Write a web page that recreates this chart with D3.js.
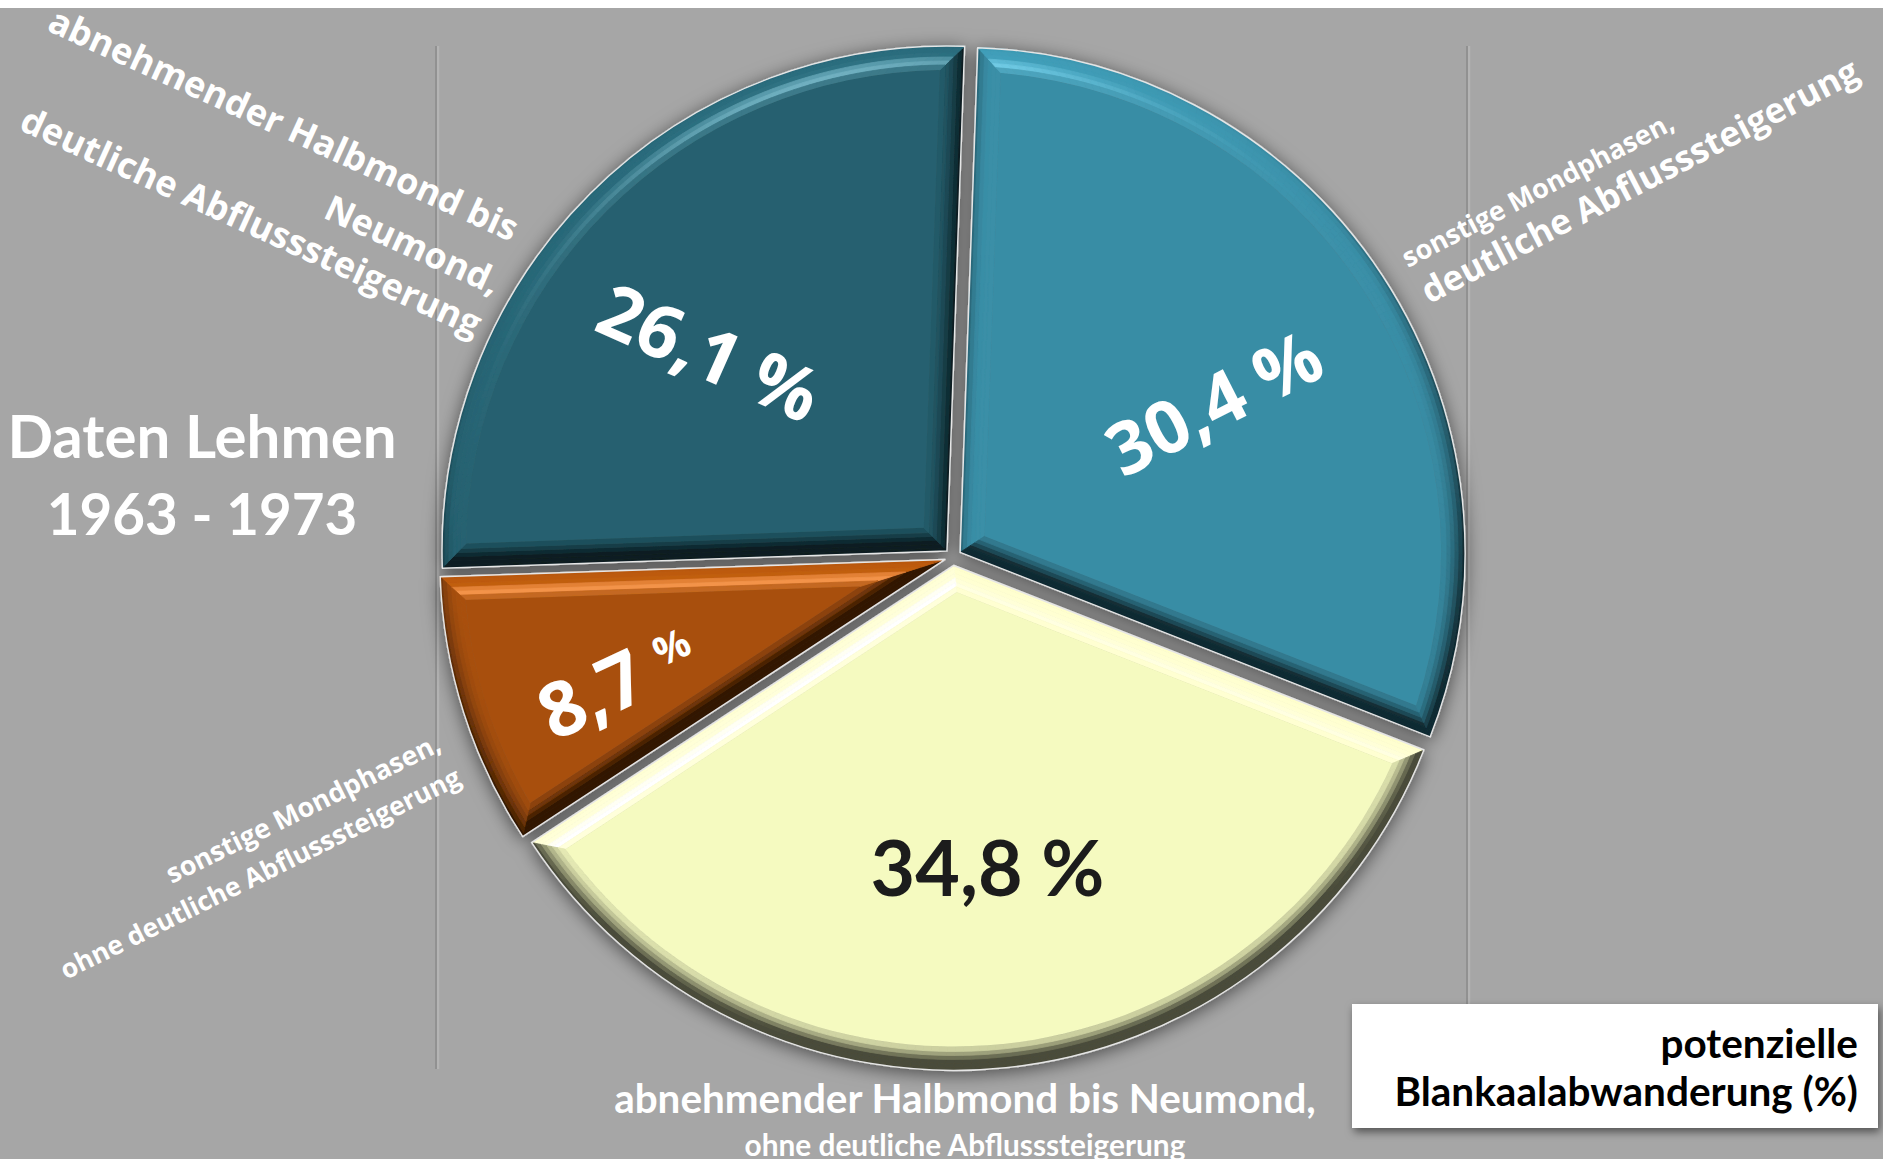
<!DOCTYPE html>
<html>
<head>
<meta charset="utf-8">
<script src="https://cdn.jsdelivr.net/npm/d3@7"></script>
<style>
  html, body { margin: 0; padding: 0; background: #a6a6a6; overflow: hidden; }
  svg { display: block; }
</style>
</head>
<body>
<script>
// data
const categories = [
    "sonstige Mondphasen, deutliche Abflusssteigerung",
    "abnehmender Halbmond bis Neumond, ohne deutliche Abflusssteigerung",
    "sonstige Mondphasen, ohne deutliche Abflusssteigerung",
    "abnehmender Halbmond bis Neumond, deutliche Abflusssteigerung"
];
const values = [30.4, 34.8, 8.7, 26.1];
const categoryLines = [
    ["sonstige Mondphasen,", "deutliche Abflusssteigerung"],
    ["abnehmender Halbmond bis Neumond,", "ohne deutliche Abflusssteigerung"],
    ["sonstige Mondphasen,", "ohne deutliche Abflusssteigerung"],
    ["abnehmender Halbmond bis", "Neumond,", "deutliche Abflusssteigerung"]
];
const titleLines = ["Daten Lehmen", "1963 - 1973"];
const legendTitle = ["potenzielle", "Blankaalabwanderung (%)"];

const sliceColors = ["#398da5", "#f5fac0", "#a8500c", "#25606f"];
const valueColors = ["#ffffff", "#1c1c1c", "#ffffff", "#ffffff"];

const W = 1883, H = 1159;
const cx = 953, cy = 557, R = 505, explode = 8.5, bevel = 24;
const deg = Math.PI / 180;

const svg = d3.select("body").append("svg")
    .attr("width", W)
    .attr("height", H);

const defs = svg.append("defs");
const pieShadow = defs.append("filter").attr("id", "pieShadow")
    .attr("x", "-10%").attr("y", "-10%").attr("width", "120%").attr("height", "120%");
pieShadow.append("feDropShadow")
    .attr("dx", 0).attr("dy", 3).attr("stdDeviation", 9)
    .attr("flood-color", "#000").attr("flood-opacity", 0.55);

const boxShadow = defs.append("filter").attr("id", "boxShadow")
    .attr("x", "-10%").attr("y", "-20%").attr("width", "120%").attr("height", "150%");
boxShadow.append("feDropShadow")
    .attr("dx", 2).attr("dy", 4).attr("stdDeviation", 4)
    .attr("flood-color", "#000").attr("flood-opacity", 0.5);

svg.append("rect").attr("width", W).attr("height", H).attr("fill", "#a6a6a6");
svg.append("rect").attr("width", W).attr("height", 8).attr("fill", "#ffffff");

// plot area side lines
[436, 1467].forEach(x => {
    svg.append("line")
        .attr("x1", x + 2).attr("x2", x + 2).attr("y1", 46).attr("y2", 1069)
        .attr("stroke", "#b4b4b4").attr("stroke-width", 2.5);
    svg.append("line")
        .attr("x1", x).attr("x2", x).attr("y1", 46).attr("y2", 1069)
        .attr("stroke", "#8a8a8a").attr("stroke-width", 1.5);
});

// lighting for the bevel
const norm = v => { const l = Math.hypot(...v); return v.map(c => c / l); };
const Lv = norm([-0.2, -0.75, 0.65]);
const Hv = norm([Lv[0], Lv[1], Lv[2] + 1]);
const specPow = 40;
const specFlat = Math.pow(Hv[2], specPow);

function shade(base, nx, ny, slope) {
    const s = Math.sin(slope), c = Math.cos(slope);
    const N = [nx * s, ny * s, c];
    const diff = Math.max(0, N[0] * Lv[0] + N[1] * Lv[1] + N[2] * Lv[2]);
    let ratio = 0.3 + 0.7 * diff / Lv[2];
    if (ratio > 1) ratio = 1 + (ratio - 1) * 0.35;
    const nh = Math.max(0, N[0] * Hv[0] + N[1] * Hv[1] + N[2] * Hv[2]);
    const spec = Math.max(0, Math.pow(nh, specPow) - specFlat) * 0.3;
    const col = d3.rgb(base);
    const f = v => Math.max(0, Math.min(255, v * ratio + spec * 255));
    return d3.rgb(f(col.r), f(col.g), f(col.b)).formatHex();
}

const pt = (P, r, a) => [P[0] + r * Math.sin(a), P[1] - r * Math.cos(a)];

function inset(P, a0, a1, d) {
    const half = (a1 - a0) / 2, mid = (a0 + a1) / 2;
    const da = Math.asin(Math.min(1, d / (R - d)));
    return { q: pt(P, d / Math.sin(half), mid), r: R - d, p0: a0 + da, p1: a1 - da };
}

const poly = pts => "M" + pts.map(p => p[0].toFixed(2) + "," + p[1].toFixed(2)).join("L") + "Z";

const pie = d3.pie().sort(null).value(d => d)
    .startAngle(2 * deg).endAngle(362 * deg);
const arcs = pie(values);

// bevel profile: insets and slopes (outer steep -> inner flat)
const steps = [0, 3, 7, 11, 15, 19, 24];
const slopes = [72, 58, 45, 33, 22, 11].map(s => s * deg);

const pieG = svg.append("g").attr("filter", "url(#pieShadow)");

arcs.forEach((a, i) => {
    const a0 = a.startAngle, a1 = a.endAngle, mid = (a0 + a1) / 2;
    const P = [cx + explode * Math.sin(mid), cy - explode * Math.cos(mid)];
    const base = sliceColors[i];
    const g = pieG.append("g").attr("class", "slice");

    const add = (d, fill) => g.append("path").attr("d", d)
        .attr("fill", fill).attr("stroke", fill).attr("stroke-width", 0.8);

    for (let k = 0; k < slopes.length; k++) {
        const o = inset(P, a0, a1, steps[k]);
        const n = inset(P, a0, a1, steps[k + 1]);
        // straight edges
        add(poly([o.q, pt(P, o.r, o.p0), pt(P, n.r, n.p0), n.q]),
            shade(base, -Math.cos(a0), -Math.sin(a0), slopes[k]));
        add(poly([o.q, n.q, pt(P, n.r, n.p1), pt(P, o.r, o.p1)]),
            shade(base, Math.cos(a1), Math.sin(a1), slopes[k]));
        // curved edge
        const pieces = Math.ceil((a1 - a0) / deg);
        for (let j = 0; j < pieces; j++) {
            const t0 = j / pieces, t1 = (j + 1) / pieces;
            const oa0 = o.p0 + (o.p1 - o.p0) * t0, oa1 = o.p0 + (o.p1 - o.p0) * t1;
            const na0 = n.p0 + (n.p1 - n.p0) * t0, na1 = n.p0 + (n.p1 - n.p0) * t1;
            const am = (oa0 + oa1) / 2;
            add(poly([pt(P, o.r, oa0), pt(P, o.r, oa1), pt(P, n.r, na1), pt(P, n.r, na0)]),
                shade(base, Math.sin(am), -Math.cos(am), slopes[k]));
        }
    }

    // flat face
    const f = inset(P, a0, a1, bevel);
    const fs = pt(P, f.r, f.p0), fe = pt(P, f.r, f.p1);
    g.append("path")
        .attr("d", `M${f.q}L${fs}A${f.r},${f.r} 0 ${f.p1 - f.p0 > Math.PI ? 1 : 0} 1 ${fe}Z`)
        .attr("fill", base);

    // thin light rim
    const os = pt(P, R, a0), oe = pt(P, R, a1);
    g.append("path")
        .attr("d", `M${P}L${os}A${R},${R} 0 ${a1 - a0 > Math.PI ? 1 : 0} 1 ${oe}Z`)
        .attr("fill", "none")
        .attr("stroke", "#e6e6e6")
        .attr("stroke-width", 1.5)
        .attr("stroke-linejoin", "round");
});

// value labels: [radius fraction, angle offset (deg), rotation (deg), font size]
const valueLayout = [[0.6, 2.7, -27, 73], [0.62, -0.4, 0, 77], [0.71, -2.8, -25, 76], [0.63, -5.0, 24, 74]];
const fmt = v => String(v).replace(".", ",");

arcs.forEach((a, i) => {
    const [rf, dAng, rot, size] = valueLayout[i];
    const ang = (a.startAngle + a.endAngle) / 2 + dAng * deg;
    const [x, y] = [cx + rf * R * Math.sin(ang), cy - rf * R * Math.cos(ang)];
    const t = svg.append("text")
        .attr("transform", `translate(${x},${y}) rotate(${rot})`)
        .attr("text-anchor", "middle")
        .attr("dy", "0.36em")
        .attr("fill", valueColors[i])
        .attr("font-weight", 700)
        .attr("font-size", size);
    if (i === 1) {
        t.attr("font-family", "Lato, sans-serif").text(fmt(values[i]) + " %");
    } else if (i === 2) {
        t.attr("font-family", "'Open Sans', sans-serif");
        t.append("tspan").text(fmt(values[i]));
        t.append("tspan").attr("font-size", 40).attr("dx", 20).attr("dy", -22).text("%");
    } else {
        t.attr("font-family", "'Open Sans', sans-serif").text(fmt(values[i]) + " %");
    }
});

// category labels
const catLayout = [
    { x: 1408, y: 268, rot: -27.5, anchor: "start", font: "'Open Sans', sans-serif", sizes: [27, 35], dy: [0, 42], dx: [0, 2] },
    { x: 965, y: 1113, rot: 0, anchor: "middle", font: "Lato, sans-serif", sizes: [40.4, 29.8], dy: [0, 43], dx: [0, 0] },
    { x: 443, y: 750, rot: -26.3, anchor: "end", font: "'Open Sans', sans-serif", sizes: [27, 26.5], dy: [0, 39], dx: [0, 3] },
    { x: 511, y: 242, rot: 24.5, anchor: "end", font: "'Open Sans', sans-serif", sizes: [36, 36, 36], dy: [0, 56, 102], dx: [0, 6, 6] }
];

categoryLines.forEach((lines, i) => {
    const L = catLayout[i];
    const g = svg.append("g")
        .attr("transform", `translate(${L.x},${L.y}) rotate(${L.rot})`);
    lines.forEach((line, k) => {
        g.append("text")
            .attr("x", L.dx[k])
            .attr("y", L.dy[k])
            .attr("text-anchor", L.anchor)
            .attr("font-family", L.font)
            .attr("font-weight", 700)
            .attr("font-size", L.sizes[k])
            .attr("fill", "#ffffff")
            .text(line);
    });
});

// title
const titleSizes = [60, 56.5];
titleLines.forEach((line, k) => {
    svg.append("text")
        .attr("x", 202)
        .attr("y", 458 + k * 77)
        .attr("text-anchor", "middle")
        .attr("font-family", "Lato, sans-serif")
        .attr("font-weight", 700)
        .attr("font-size", titleSizes[k])
        .attr("fill", "#ffffff")
        .text(line);
});

// legend title box
svg.append("rect")
    .attr("x", 1352).attr("y", 1004)
    .attr("width", 526).attr("height", 124)
    .attr("fill", "#ffffff")
    .attr("filter", "url(#boxShadow)");

legendTitle.forEach((line, k) => {
    svg.append("text")
        .attr("x", 1858)
        .attr("y", 1058 + k * 48)
        .attr("text-anchor", "end")
        .attr("font-family", "Lato, sans-serif")
        .attr("font-weight", 700)
        .attr("font-size", 40.5)
        .attr("fill", "#000000")
        .text(line);
});
</script>
</body>
</html>
